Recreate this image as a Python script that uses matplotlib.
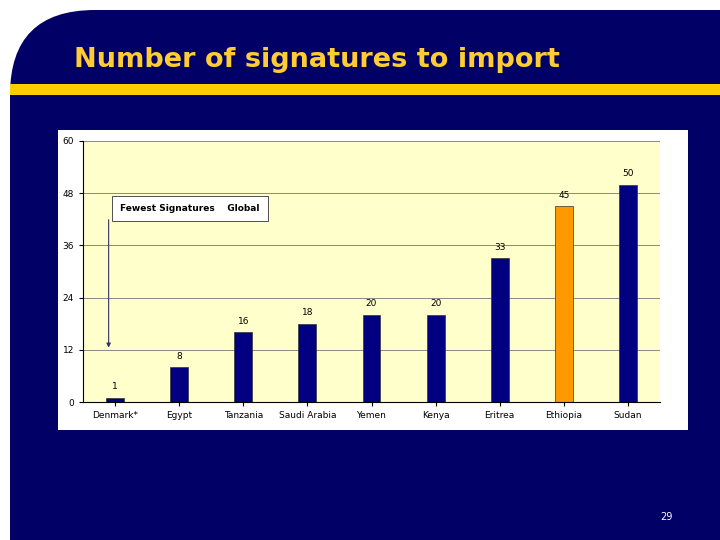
import matplotlib
matplotlib.use("Agg")
import matplotlib.pyplot as plt
from matplotlib.patches import FancyBboxPatch, Rectangle

countries = ["Denmark*", "Egypt", "Tanzania", "Saudi Arabia", "Yemen", "Kenya", "Eritrea", "Ethiopia", "Sudan"]
values = [1, 8, 16, 18, 20, 20, 33, 45, 50]
colors = ["#000080"] * 7 + ["#FF9900", "#000080"]
yticks = [0, 12, 24, 36, 48, 60]

W, H = 720, 540
fig = plt.figure(figsize=(7.2, 5.4), dpi=100)
fig.patch.set_facecolor("white")
bg = fig.add_axes([0, 0, 1, 1]); bg.set_xlim(0, W); bg.set_ylim(H, 0); bg.axis("off")
bg.add_patch(FancyBboxPatch((10, 10), 760, 600, boxstyle="round,pad=0,rounding_size=85",
                            facecolor="#000066", edgecolor="none"))
bg.add_patch(Rectangle((200, 10), 520, 530, facecolor="#000066", edgecolor="none"))
bg.add_patch(Rectangle((10, 200), 300, 340, facecolor="#000066", edgecolor="none"))
bg.add_patch(Rectangle((10, 84), 710, 11, facecolor="#FFCC00", edgecolor="none"))
bg.add_patch(Rectangle((58, 130), 630, 300, facecolor="white", edgecolor="none"))
bg.text(74, 60, "Number of signatures to import", color="#FFCC33", fontsize=19.5,
        fontweight="bold", family="DejaVu Sans", va="center", ha="left")
bg.text(666, 517, "29", color="white", fontsize=7, ha="center", va="center")

def fx(x): return x / W
def fy(y): return 1 - y / H
ax = fig.add_axes([fx(83), fy(402), fx(660 - 83), fy(141) - fy(402)])
ax.set_facecolor("#FFFFCC")
x = range(len(countries))
ax.bar(x, values, width=0.28, color=colors, edgecolor="#333333", linewidth=0.5)
for i, v in enumerate(values):
    ax.text(i, v + 1.5, str(v), ha="center", va="bottom", fontsize=6.5)
ax.set_xlim(-0.5, len(countries) - 0.5)
ax.set_ylim(0, 60)
ax.set_yticks(yticks)
ax.tick_params(labelsize=6.5, length=3)
ax.set_xticks(list(x))
ax.set_xticklabels(countries, fontsize=6.5)
ax.yaxis.grid(True, color="#777777", linewidth=0.6)
ax.set_axisbelow(True)
for s in ["top", "right"]:
    ax.spines[s].set_visible(False)
ax.text(1.17, 44.5, "Fewest Signatures    Global", fontsize=6.5, fontweight="bold",
        va="center", ha="center",
        bbox=dict(facecolor="white", edgecolor="#333333", linewidth=0.6, pad=6))
ax.annotate("", xy=(-0.1, 12.5), xytext=(-0.1, 41.9),
            arrowprops=dict(arrowstyle="-|>", color="#333366", lw=0.8, mutation_scale=6,
                            shrinkA=0, shrinkB=0))
fig.savefig("out.png", dpi=100)
